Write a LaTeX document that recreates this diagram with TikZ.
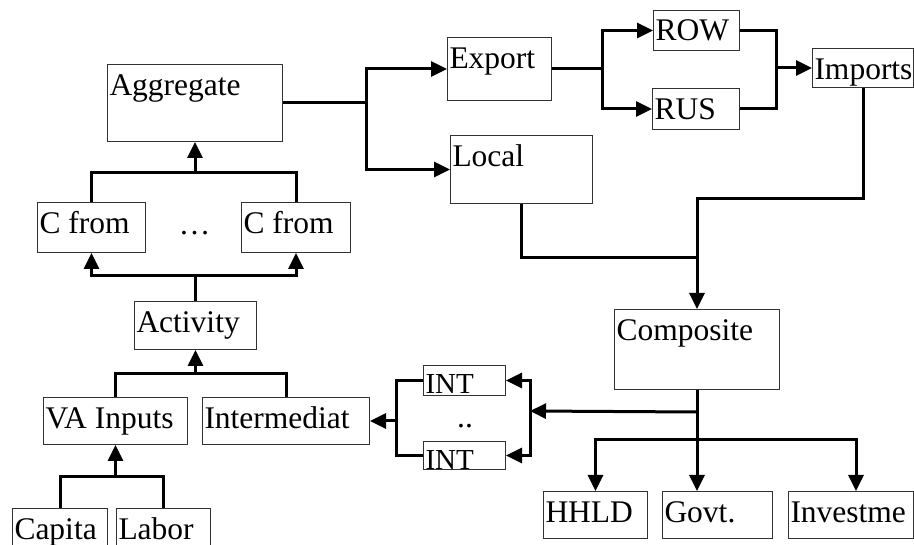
\documentclass[tikz,border=0pt]{standalone}
\usepackage{fontspec}
\setmainfont{Liberation Serif}
\usetikzlibrary{arrows.meta}

\begin{document}
\begin{tikzpicture}[
  x=1pt, y=-1pt,
  font=\fontsize{31.5}{36}\selectfont,
  box/.style 2 args={draw=black!80, line width=1pt, anchor=north west, align=flush left, inner xsep=2pt, inner ysep=0pt, text width=#1pt-4pt, text height=31pt, text depth=#2pt-31pt},
  intbox/.style 2 args={box={#1}{#2}, font=\fontsize{29}{32}\selectfont, text height=28pt, text depth=#2pt-28pt},
  link/.style={line width=3pt},
  arrow/.style={link, -{Triangle[length=16pt, width=15pt]}}
]
\useasboundingbox (0,0) rectangle (914,545);

% NODES
\node[box={175}{77}] (agg) at (107,64) {Aggregate};
\node[box={108}{50}] (c1) at (37,202) {C from};
\node[box={109}{50}] (c2) at (241,202) {C from};
\node[anchor=base] (cdots) at (194.5,235) {…};
\node[box={122}{48}] (act) at (134,301) {Activity};
\node[box={144}{47}] (va) at (43,397) {VA Inputs};
\node[box={167}{47}] (inter) at (202,397) {Intermediat};
\node[box={95}{50}] (capita) at (12,508) {Capita};
\node[box={94}{50}] (labor) at (116,508) {Labor};

\node[box={104}{63}] (export) at (447,37) {Export};
\node[box={142}{68}] (local) at (450,135) {Local};
\node[box={86}{40}, text height=30pt, text depth=10pt] (row) at (653,10) {ROW};
\node[box={87}{41}] (rus) at (652,88) {RUS};
\node[box={101}{39}] (imports) at (812,48) {Imports};

\node[box={165}{80}] (comp) at (614,309) {Composite};
\node[intbox={82}{30}] (int1) at (423,365) {INT};
\node[intbox={82}{27}] (int2) at (423,441) {INT};
\node[anchor=base] (intdots) at (465,428) {..};
\node[box={104}{47}] (hhld) at (543,491) {HHLD};
\node[box={110}{47}] (govt) at (662,491) {Govt.};
\node[box={125}{47}] (inv) at (788,491) {Investme};

% JOINTS
\coordinate (aggj) at ([yshift=-31pt]agg.south);
\coordinate (cj) at ([yshift=25pt]act.north);
\coordinate (actj) at ([yshift=-24pt]act.south);
\coordinate (vaj) at ([yshift=-32pt]va.south);
\coordinate (impj) at ([xshift=-36pt]imports.west);
\coordinate (usej) at ([yshift=-50pt]comp.south);
\coordinate (intj) at ([yshift=-22pt]comp.south);
\coordinate (intsplit) at (530,411);
\coordinate (intm) at ([xshift=-27pt]int1.west |- inter.east);

% FLOW
\draw[link] (c1.north) |- (aggj) -| (c2.north);
\draw[arrow] (aggj) -- (agg.south);
\draw[link] (act.north) -- (cj);
\draw[arrow] (cj) -| (c1.south);
\draw[arrow] (cj) -| (c2.south);
\draw[link] (va.north) |- (actj) -| (inter.north);
\draw[arrow] (actj) -- (act.south);
\draw[link] (capita.north) |- (vaj) -| (labor.north);
\draw[arrow] (vaj) -- (va.south);

\draw[link] (agg.east) -- ++(83,0) coordinate (aggx);
\draw[arrow] (aggx) |- (export.west);
\draw[arrow] (aggx) |- (local.west);
\draw[link] (export.east) -- ++(50,0) coordinate (expx);
\draw[arrow] (expx) |- (row.west);
\draw[arrow] (expx) |- (rus.west);
\draw[link] (row.east) -| (impj) |- (rus.east);
\draw[arrow] (impj) -- (imports.west);
\draw[arrow] (imports.south) -- ++(0,111) -| (comp.north);
\draw[link] (local.south) -- ++(0,54) coordinate (locd) -- (locd -| comp.north);

\draw[link] (comp.south) -- (usej);
\draw[arrow] (usej) -| (hhld.north);
\draw[arrow] (usej) -- (govt.north -| usej);
\draw[arrow] (usej) -| ([xshift=5pt]inv.north);
\draw[arrow] (intj) -- (intsplit);
\draw[arrow] (intsplit) |- (int1.east);
\draw[arrow] (intsplit) |- (int2.east);
\draw[link] (int1.west) -| (intm) |- (int2.west);
\draw[arrow] (intm) -- (inter.east);

\end{tikzpicture}
\end{document}
